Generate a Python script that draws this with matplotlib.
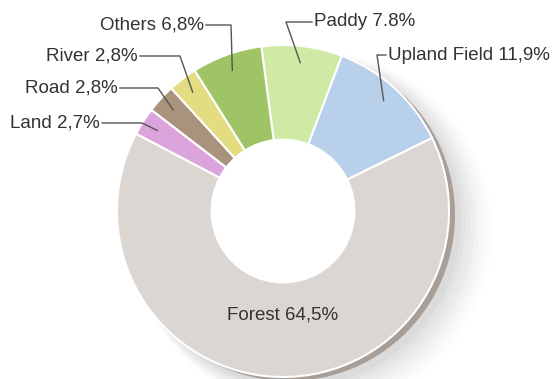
import matplotlib
matplotlib.use("Agg")
import matplotlib.pyplot as plt
import numpy as np
from matplotlib.patches import Circle

# land use shares (%), clockwise from the top
labels = ["Paddy", "Upland Field", "Forest", "Land", "Road", "River", "Others"]
shares = [7.8, 11.9, 64.5, 2.7, 2.8, 2.8, 6.8]
shown = ["7.8%", "11,9%", "64,5%", "2,7%", "2,8%", "2,8%", "6,8%"]
colors = ["#cfeaa4", "#b9d0ea", "#dcd6d3", "#dca4dc", "#aa937c", "#e4dc80", "#9fc466"]

W, H = 552, 379
CX, CY, R = 283, H - 211, 166
HOLE = 0.43
START = 97.5

# text position (px from top-left) and leader elbow for every small slice
label_pos = {
    "Paddy": (314, 22, 286, "left"),
    "Upland Field": (388, 55, 377, "left"),
    "Land": (100, 123, 142, "right"),
    "Road": (118, 88, 158, "right"),
    "River": (138, 56, 180, "right"),
    "Others": (204, 25, 231, "right"),
}

plt.rcParams["font.family"] = ["Liberation Sans", "DejaVu Sans"]
fig = plt.figure(figsize=(W / 100, H / 100), dpi=100)
ax = fig.add_axes([0, 0, 1, 1])

# soft drop shadow and the darker rim that gives the ring its thickness
for i, a in enumerate(np.linspace(0.05, 0.012, 8)):
    ax.add_patch(Circle((CX + 12 + i * 2.5, CY - 10 - i * 1.5), R + i * 2,
                        color="#707070", alpha=a, lw=0, zorder=0))
ax.add_patch(Circle((CX + 6, CY - 4), R, color="#a69e97", lw=0, zorder=1))

wedges, _ = ax.pie(shares, colors=colors, startangle=START, counterclock=False,
                   center=(CX, CY), radius=R, frame=True,
                   wedgeprops=dict(width=R * (1 - HOLE), edgecolor="white", linewidth=1.5))
for w in wedges:
    w.set_zorder(2)
# keep the hole clean of the rim underneath
ax.add_patch(Circle((CX, CY), R * HOLE + 0.5, color="white", lw=0, zorder=3))

ax.set_xlim(0, W)
ax.set_ylim(0, H)
ax.set_aspect("equal")
ax.axis("off")

for w, name, val in zip(wedges, labels, shown):
    mid = np.deg2rad((w.theta1 + w.theta2) / 2)
    if name == "Forest":
        ax.text(CX, H - 315, f"{name} {val}", ha="center", va="center",
                fontsize=13.5, color="#333333", zorder=5)
        continue
    tx, ty, ex, ha = label_pos[name]
    ty = H - ty
    px = CX + 0.9 * R * np.cos(mid)
    py = CY + 0.9 * R * np.sin(mid)
    line_start = tx + 2 if ha == "right" else tx - 2
    ax.plot([line_start, ex, px], [ty, ty, py], color="#555555", lw=1, zorder=4)
    ax.text(tx, ty, f"{name} {val}", ha=ha, va="center", fontsize=13.5,
            color="#333333", zorder=5)

fig.savefig("out.png", dpi=100)
